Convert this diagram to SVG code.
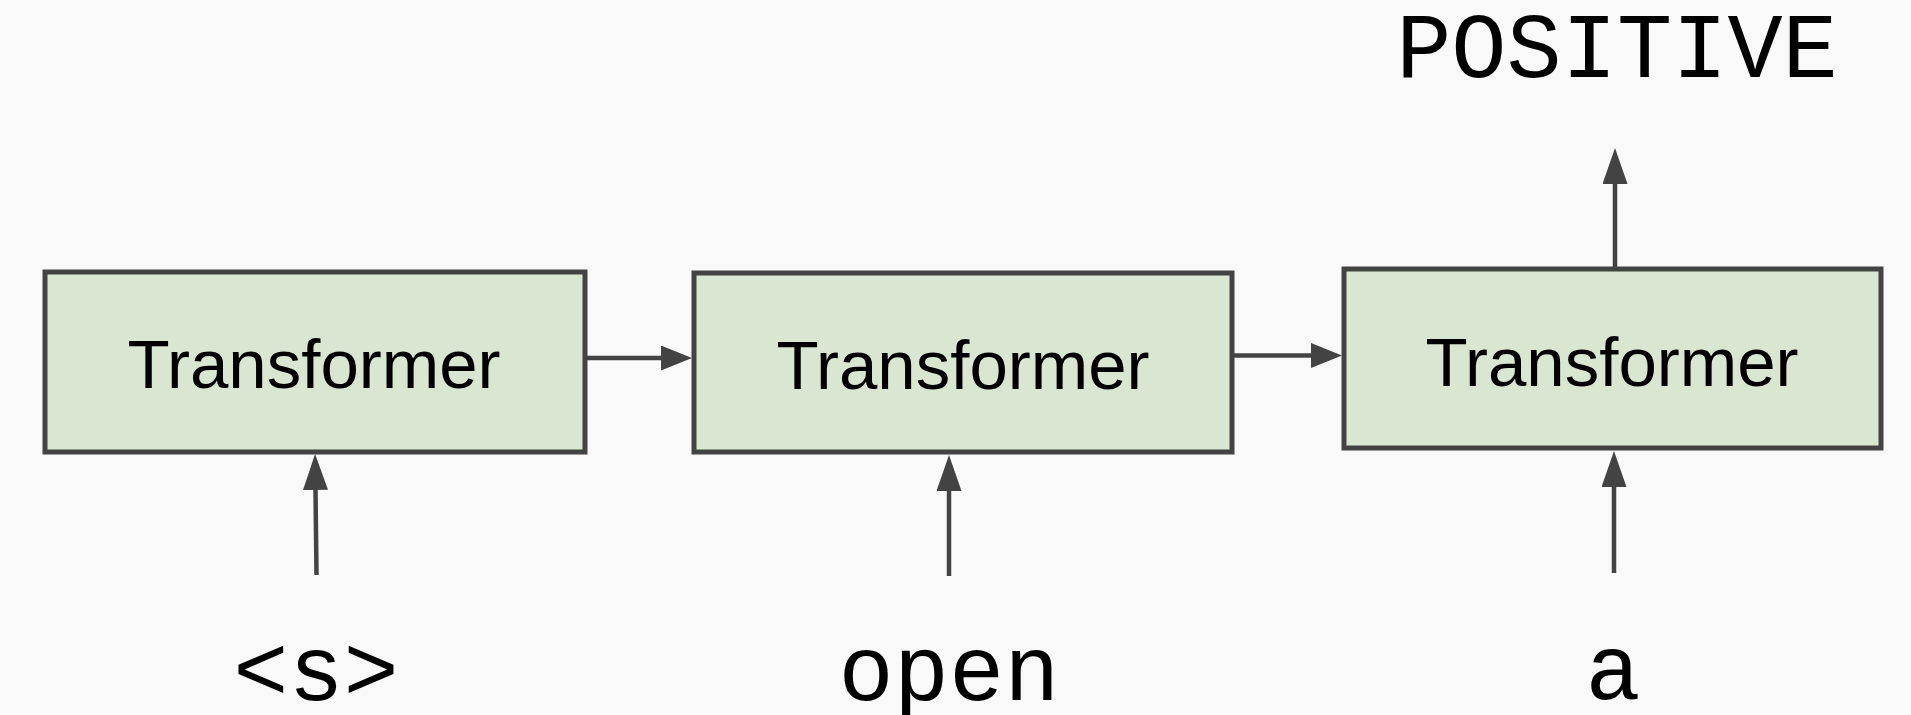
<svg xmlns="http://www.w3.org/2000/svg" width="1911" height="715" viewBox="0 0 1911 715">
<style>
.box{fill:#d9e6d1;stroke:#434343;stroke-width:5}
.lbl{font-family:"Liberation Sans",Arial,sans-serif;font-size:69px;fill:#000;text-anchor:middle}
.tok{font-family:"Liberation Mono","Courier New",monospace;font-size:92px;fill:#000;text-anchor:middle}
.ln{stroke:#434343;stroke-width:4.5;fill:none}
</style>
<defs>
<marker id="ah" viewBox="0 0 31 25" refX="0" refY="12.5" markerWidth="31" markerHeight="25" markerUnits="userSpaceOnUse" orient="auto">
<path d="M0,0 L31,12.5 L0,25 Z" fill="#434343"/>
</marker>
<marker id="av" viewBox="0 0 36 25" refX="0" refY="12.5" markerWidth="36" markerHeight="25" markerUnits="userSpaceOnUse" orient="auto">
<path d="M0,0 L36,12.5 L0,25 Z" fill="#434343"/>
</marker>
</defs>
<rect width="1911" height="715" fill="#f9f9f9"/>
<g id="connectors">
<line class="ln" x1="585" y1="358" x2="661" y2="358" marker-end="url(#ah)"/>
<line class="ln" x1="1232" y1="355.5" x2="1311" y2="355.5" marker-end="url(#ah)"/>
<line class="ln" x1="316.5" y1="575" x2="315.5" y2="490" marker-end="url(#av)"/>
<line class="ln" x1="949" y1="576" x2="949" y2="491" marker-end="url(#av)"/>
<line class="ln" x1="1614" y1="573" x2="1614" y2="487" marker-end="url(#av)"/>
<line class="ln" x1="1615" y1="267" x2="1615" y2="184" marker-end="url(#av)"/>
</g>
<g id="node1">
<rect class="box" x="45" y="272" width="540" height="180"/>
<text class="lbl" x="314" y="388">Transformer</text>
</g>
<g id="node2">
<rect class="box" x="694" y="273" width="538" height="179"/>
<text class="lbl" x="963" y="389">Transformer</text>
</g>
<g id="node3">
<rect class="box" x="1344" y="269" width="537" height="179"/>
<text class="lbl" x="1612" y="386">Transformer</text>
</g>
<g id="tok-s"><text class="tok" x="316" y="700">&lt;s&gt;</text></g>
<g id="tok-open"><text class="tok" x="949" y="700">open</text></g>
<g id="tok-a"><text class="tok" x="1613" y="699">a</text></g>
<g id="out-positive"><text class="tok" x="1617" y="77">POSITIVE</text></g>
</svg>
